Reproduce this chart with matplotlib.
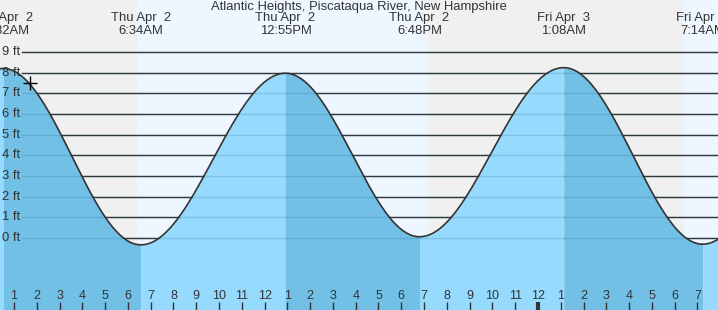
import numpy as np
import matplotlib.pyplot as plt

plt.rcParams['font.family'] = ['Liberation Sans', 'DejaVu Sans']

# tide extremes, hours from Thu Apr 2 00:00, heights in feet
# (first and last entries are just off the chart, only used for the curve ends)
ext_hours = [-5.70, 0.533, 6.567, 12.917, 18.80, 25.133, 31.233, 37.40]
ext_heights = [-0.20, 8.20, -0.33, 7.97, 0.06, 8.24, -0.30, 8.00]
ext_days = ["", "Thu Apr  2", "Thu Apr  2", "Thu Apr  2", "Thu Apr  2",
            "Fri Apr  3", "Fri Apr  3", ""]
ext_times = ["", "12:32AM", "6:34AM", "12:55PM", "6:48PM", "1:08AM", "7:14AM", ""]

# sunrise / sunset in the same hour scale
sun_events = [6.41, 19.16, 30.42]

now_hour = 1.70
now_height = 7.51

ft_levels = list(range(0, 10))

title = "Atlantic Heights, Piscataqua River, New Hampshire"

W, H = 718, 310
PX_PER_HR = 22.78
PX_PER_FT = 20.67
X0_PX = -8.78     # pixel of Thu 00:00
Y0_PX = 238       # pixel row of 0 ft

NIGHT = "#f0f0f0"
DAY = "#eef7ff"
RISING = "#96dbfe"
FALLING = "#72c0e6"
INK = "#333333"

xmin = -X0_PX / PX_PER_HR
xmax = xmin + W / PX_PER_HR
ymax = Y0_PX / PX_PER_FT
ymin = ymax - H / PX_PER_FT


def px_to_hr(px):
    return (px - X0_PX) / PX_PER_HR


def px_to_ft(py):
    return (Y0_PX - py) / PX_PER_FT


def tide_segment(t1, h1, t2, h2, n=80):
    t = np.linspace(t1, t2, n)
    h = h1 + (h2 - h1) * (1 - np.cos(np.pi * (t - t1) / (t2 - t1))) / 2
    return t, h


fig = plt.figure(figsize=(W / 100, H / 100), dpi=100)
ax = fig.add_axes([0, 0, 1, 1])
ax.set_xlim(xmin, xmax)
ax.set_ylim(ymin, ymax)
ax.axis("off")

# day / night sky
edges = [xmin] + sun_events + [xmax]
for i in range(len(edges) - 1):
    ax.axvspan(edges[i], edges[i + 1], color=NIGHT if i % 2 == 0 else DAY,
               lw=0, zorder=0)

# grid lines
gx0 = px_to_hr(22)
for lv in ft_levels:
    ax.plot([gx0, xmax], [lv, lv], color=INK, lw=1, zorder=1)

# water + curve
all_t, all_h = [], []
for i in range(len(ext_hours) - 1):
    t, h = tide_segment(ext_hours[i], ext_heights[i],
                        ext_hours[i + 1], ext_heights[i + 1])
    col = RISING if ext_heights[i + 1] > ext_heights[i] else FALLING
    ax.fill_between(t, ymin, h, color=col, lw=0, zorder=2)
    all_t.append(t)
    all_h.append(h)
ax.plot(np.concatenate(all_t), np.concatenate(all_h), color=INK, lw=1.2,
        zorder=4)

# grid lines seen through the water
for lv in ft_levels:
    ax.plot([gx0, xmax], [lv, lv], color="#1a5a80", alpha=0.18, lw=1, zorder=3)

# current position
ax.plot(now_hour, now_height, marker="+", color="black", ms=10, mew=1,
        zorder=5)

# y labels
for lv in ft_levels:
    ax.text(px_to_hr(20), lv, f"{lv} ft", ha="right", va="center",
            fontsize=9.4, color=INK, zorder=6)

# title and extreme labels
fig.text(359 / W, 1 - 7 / H, title, ha="center", va="center",
         fontsize=9.4, color=INK)
for t, d, s in zip(ext_hours, ext_days, ext_times):
    if not d:
        continue
    ax.text(t, px_to_ft(18), d, ha="center", va="center", fontsize=9.4,
            color=INK, zorder=6)
    ax.text(t, px_to_ft(31), s, ha="center", va="center", fontsize=9.4,
            color=INK, zorder=6)

# hour ticks along the bottom
for hr in range(1, 32):
    lab = hr % 12 or 12
    ax.text(hr, px_to_ft(296), str(lab), ha="center", va="center",
            fontsize=9, color=INK, zorder=6)
    ax.plot([hr, hr], [px_to_ft(302), ymin], color=INK,
            lw=3 if hr % 24 == 0 else 1, zorder=6, solid_capstyle="butt")

fig.savefig("out.png", dpi=100)
